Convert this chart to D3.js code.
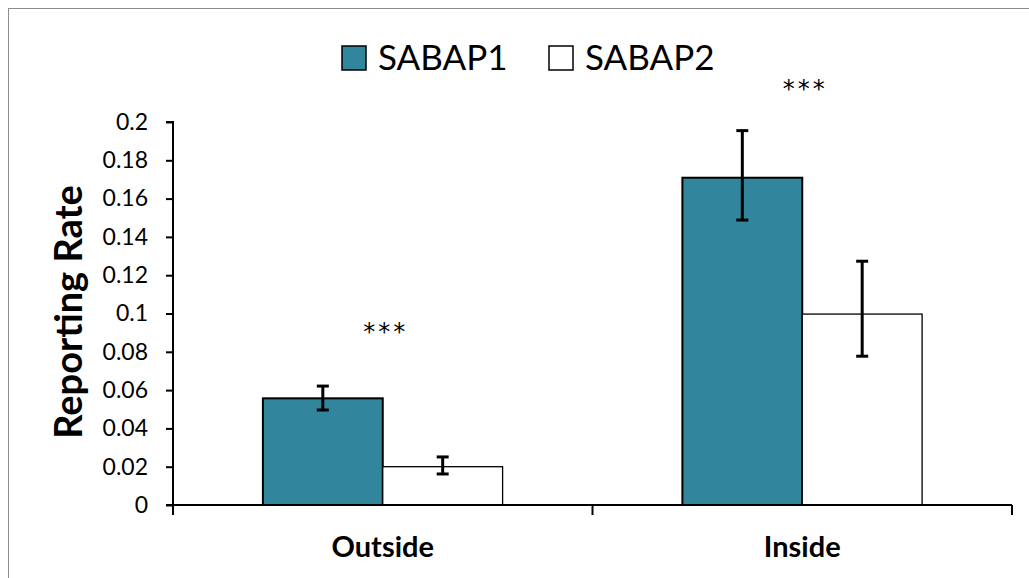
<!DOCTYPE html>
<html>
<head>
<meta charset="utf-8">
<script src="https://cdn.jsdelivr.net/npm/d3@7"></script>
<style>
  body { margin: 0; background: #fff; }
  text { font-family: Lato, "Open Sans", sans-serif; fill: #000; }
</style>
</head>
<body>
<div id="chart"></div>
<script>
// Chart values
const categories = ["Outside", "Inside"];
const series = ["SABAP1", "SABAP2"];
const sabap1 = [0.0557, 0.1709];
const sabap2 = [0.0200, 0.0997];
const sabap1Err = [[0.0496, 0.0621], [0.1488, 0.1955]];
const sabap2Err = [[0.0162, 0.0251], [0.0777, 0.1273]];
const sigLabels = ["***", "***"];
const sigLevel = [0.0862, 0.2131];
const yTicks = [0, 0.02, 0.04, 0.06, 0.08, 0.1, 0.12, 0.14, 0.16, 0.18, 0.2];

const width = 1029;
const height = 578;
const margin = { top: 122, right: 17, bottom: 73, left: 173 };
const colors = { SABAP1: "#31859c", SABAP2: "#ffffff" };

const svg = d3.select("#chart")
    .append("svg")
    .attr("width", width)
    .attr("height", height);

// Outer chart frame (only top and left edges visible)
svg.append("rect")
    .attr("x", 8.5)
    .attr("y", 8.5)
    .attr("width", width + 20)
    .attr("height", height + 20)
    .attr("fill", "none")
    .attr("stroke", "#8c8c8c")
    .attr("stroke-width", 1);

const xScale = d3.scaleBand()
    .domain(categories)
    .range([margin.left, width - margin.right]);

// Excel-style gap width of 150%
const step = xScale.bandwidth();
const xSub = d3.scaleBand()
    .domain(series)
    .range([step * 0.75 / 3.5, step * 2.75 / 3.5]);

const yScale = d3.scaleLinear()
    .domain([0, 0.2])
    .range([height - margin.bottom, margin.top]);

// Rows for bars
const rows = [];
categories.forEach((c, i) => {
    rows.push({ cat: c, key: "SABAP1", value: sabap1[i], err: sabap1Err[i] });
    rows.push({ cat: c, key: "SABAP2", value: sabap2[i], err: sabap2Err[i] });
});

svg.selectAll(".bar")
    .data(rows)
    .enter()
    .append("rect")
    .attr("class", "bar")
    .attr("x", d => xScale(d.cat) + xSub(d.key))
    .attr("y", d => yScale(d.value))
    .attr("width", xSub.bandwidth())
    .attr("height", d => yScale(0) - yScale(d.value))
    .attr("fill", d => colors[d.key])
    .attr("stroke", "#000")
    .attr("stroke-width", d => d.key === "SABAP1" ? 2 : 1.3);

// Error bars
const errG = svg.selectAll(".err")
    .data(rows)
    .enter()
    .append("g")
    .attr("class", "err")
    .attr("stroke", "#000")
    .attr("stroke-width", 3);

const cx = d => xScale(d.cat) + xSub(d.key) + xSub.bandwidth() / 2;

errG.append("line")
    .attr("x1", cx).attr("x2", cx)
    .attr("y1", d => yScale(d.err[0]))
    .attr("y2", d => yScale(d.err[1]));
errG.append("line")
    .attr("x1", d => cx(d) - 6).attr("x2", d => cx(d) + 6)
    .attr("y1", d => yScale(d.err[0]))
    .attr("y2", d => yScale(d.err[0]));
errG.append("line")
    .attr("x1", d => cx(d) - 6).attr("x2", d => cx(d) + 6)
    .attr("y1", d => yScale(d.err[1]))
    .attr("y2", d => yScale(d.err[1]));

// Y axis
const yAxis = d3.axisLeft(yScale)
    .tickValues(yTicks)
    .tickSize(7)
    .tickPadding(18)
    .tickFormat(d => String(+d.toFixed(2)));

const yG = svg.append("g")
    .attr("transform", "translate(" + margin.left + ",0)")
    .call(yAxis);
yG.select(".domain").attr("stroke", "#000").attr("stroke-width", 2)
    .attr("d", "M-7," + yScale(0.2) + "H0V" + yScale(0));
yG.selectAll(".tick line").attr("stroke", "#000").attr("stroke-width", 2);
yG.selectAll(".tick text")
    .style("font-size", "23px")
    .attr("fill", "#000");

// X axis with boundary ticks
const xG = svg.append("g")
    .attr("transform", "translate(0," + yScale(0) + ")");
xG.append("line")
    .attr("x1", margin.left - 7)
    .attr("x2", width - margin.right)
    .attr("stroke", "#000")
    .attr("stroke-width", 2);
const bounds = categories.map(c => xScale(c)).concat([xScale.range()[1]]);
xG.selectAll(".xtick")
    .data(bounds)
    .enter()
    .append("line")
    .attr("x1", d => d).attr("x2", d => d)
    .attr("y1", 0).attr("y2", 10)
    .attr("stroke", "#000")
    .attr("stroke-width", 2);
xG.selectAll(".xlabel")
    .data(categories)
    .enter()
    .append("text")
    .attr("x", d => xScale(d) + step / 2)
    .attr("y", 52)
    .attr("text-anchor", "middle")
    .style("font-size", "29px")
    .style("font-weight", "bold")
    .text(d => d);

// Y axis title
svg.append("text")
    .attr("transform", "translate(82,312) rotate(-90)")
    .attr("text-anchor", "middle")
    .style("font-size", "38px")
    .style("font-weight", "bold")
    .text("Reporting Rate");

// Significance markers
svg.selectAll(".sig")
    .data(categories)
    .enter()
    .append("text")
    .attr("x", d => xScale(d) + step / 2 + 3)
    .attr("y", (d, i) => yScale(sigLevel[i]))
    .attr("text-anchor", "middle")
    .style("font-family", "'DejaVu Sans', sans-serif")
    .style("font-size", "24px")
    .style("letter-spacing", "3px")
    .text((d, i) => sigLabels[i]);

// Legend
const legend = svg.append("g").attr("transform", "translate(342,46)");
const legendX = [0, 207];
series.forEach((s, i) => {
    const g = legend.append("g").attr("transform", "translate(" + legendX[i] + ",0)");
    g.append("rect")
        .attr("width", 24)
        .attr("height", 24)
        .attr("fill", colors[s])
        .attr("stroke", "#000")
        .attr("stroke-width", 1.5);
    g.append("text")
        .attr("x", 36)
        .attr("y", 24)
        .style("font-size", "35px")
        .text(s);
});
</script>
</body>
</html>
